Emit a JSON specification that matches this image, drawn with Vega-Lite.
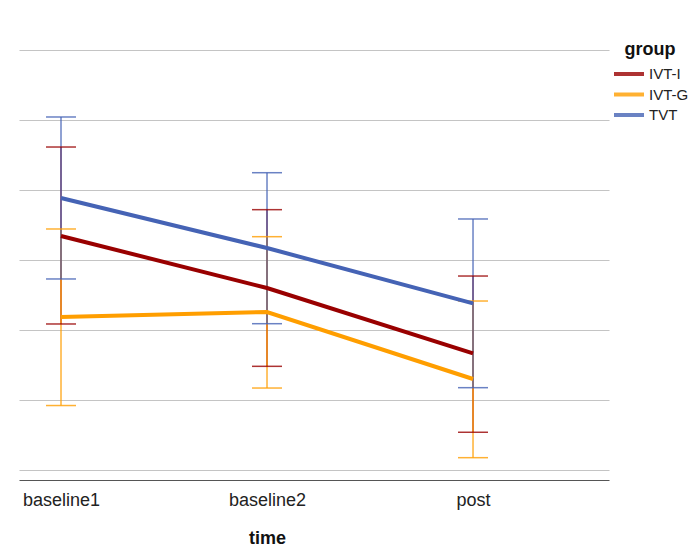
{
  "$schema": "https://vega.github.io/schema/vega-lite/v6.json",
  "width": 590,
  "height": 430,
  "autosize": {"type": "none"},
  "padding": {"left": 19, "top": 50, "right": 91, "bottom": 68},
  "background": "white",
  "config": {
    "view": {"stroke": null},
    "font": "Liberation Sans"
  },
  "data": {
    "values": [
      {"time": "baseline1", "group": "IVT-I", "mean": 3.343, "lo": 2.086, "hi": 4.614},
      {"time": "baseline1", "group": "IVT-G", "mean": 2.186, "lo": 0.921, "hi": 3.443},
      {"time": "baseline1", "group": "TVT", "mean": 3.886, "lo": 2.729, "hi": 5.043},
      {"time": "baseline2", "group": "IVT-I", "mean": 2.6, "lo": 1.481, "hi": 3.719},
      {"time": "baseline2", "group": "IVT-G", "mean": 2.257, "lo": 1.171, "hi": 3.333},
      {"time": "baseline2", "group": "TVT", "mean": 3.171, "lo": 2.09, "hi": 4.247},
      {"time": "post", "group": "IVT-I", "mean": 1.667, "lo": 0.539, "hi": 2.771},
      {"time": "post", "group": "IVT-G", "mean": 1.3, "lo": 0.176, "hi": 2.414},
      {"time": "post", "group": "TVT", "mean": 2.381, "lo": 1.176, "hi": 3.586}
    ]
  },
  "encoding": {
    "x": {
      "field": "time",
      "type": "ordinal",
      "sort": ["baseline1", "baseline2", "post"],
      "scale": {"type": "point", "padding": 0.432, "align": 0.236},
      "axis": {
        "labelAngle": 0,
        "labelFontSize": 18,
        "labelColor": "#222222",
        "labelPadding": 11,
        "ticks": false,
        "grid": false,
        "domainColor": "#555555",
        "domainWidth": 1,
        "title": "time",
        "titleFontSize": 18,
        "titleFontWeight": "bold",
        "titleColor": "#111111",
        "titlePadding": 20,
        "titleX": 248
      }
    },
    "color": {
      "field": "group",
      "type": "nominal",
      "scale": {"domain": ["IVT-I", "IVT-G", "TVT"], "range": ["#990000", "#ff9e00", "#4563b5"]},
      "legend": {
        "orient": "none",
        "legendX": 593,
        "legendY": -9,
        "title": "group",
        "titleFontSize": 18,
        "titleFontWeight": "bold",
        "titleColor": "#111111",
        "titleAnchor": "middle",
        "titlePadding": 7,
        "labelFontSize": 15,
        "labelColor": "#222222",
        "labelOffset": 3,
        "symbolType": "stroke",
        "symbolSize": 900,
        "symbolStrokeWidth": 4,
        "clipHeight": 16,
        "rowPadding": 4.5
      }
    }
  },
  "layer": [
    {
      "mark": {"type": "rule", "strokeWidth": 1.5, "opacity": 0.8},
      "encoding": {
        "y": {
          "field": "lo",
          "type": "quantitative",
          "scale": {"domain": [-0.142857, 6], "nice": false, "zero": false},
          "axis": {
            "values": [0, 1, 2, 3, 4, 5, 6],
            "labels": false,
            "ticks": false,
            "domain": false,
            "title": null,
            "grid": true,
            "gridColor": "#c4c4c4",
            "gridWidth": 1.2
          }
        },
        "y2": {"field": "hi"}
      }
    },
    {
      "mark": {"type": "tick", "size": 30, "thickness": 1.5, "opacity": 0.8},
      "encoding": {"y": {"field": "lo", "type": "quantitative"}}
    },
    {
      "mark": {"type": "tick", "size": 30, "thickness": 1.5, "opacity": 0.8},
      "encoding": {"y": {"field": "hi", "type": "quantitative"}}
    },
    {
      "mark": {"type": "line", "strokeWidth": 4},
      "encoding": {"y": {"field": "mean", "type": "quantitative"}}
    }
  ]
}
